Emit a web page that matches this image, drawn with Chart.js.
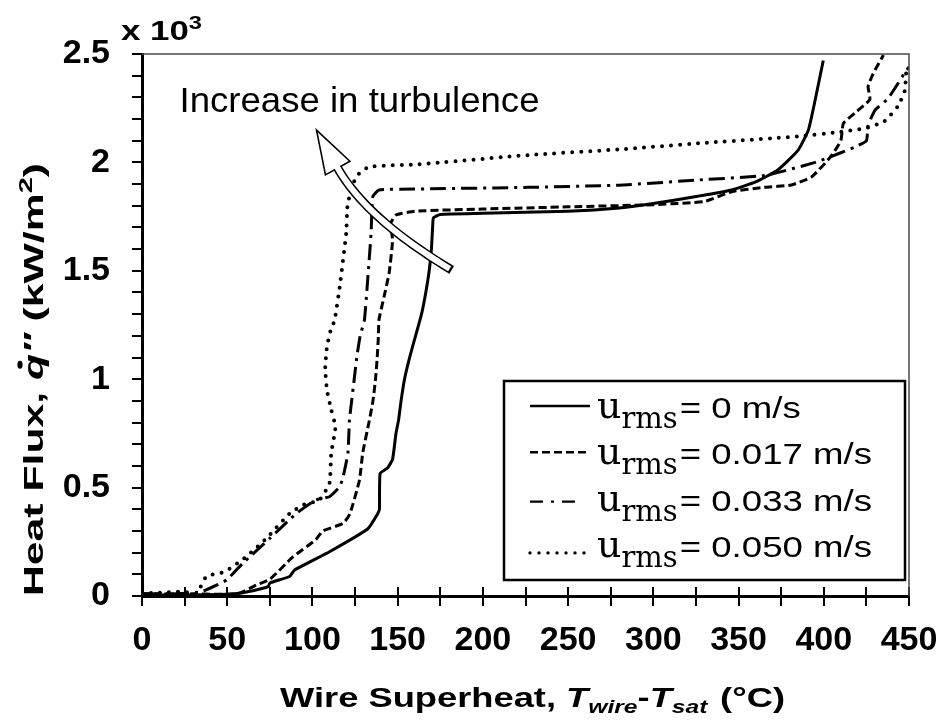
<!DOCTYPE html>
<html>
<head>
<meta charset="utf-8">
<title>Boiling curves</title>
<script src="https://cdn.jsdelivr.net/npm/chart.js@4.4.1/dist/chart.umd.min.js"></script>
<style>
  html, body { margin: 0; padding: 0; background: #fff; }
  #wrap { width: 943px; height: 721px; }
</style>
</head>
<body>
<div id="wrap"><canvas id="boil" width="943" height="721"></canvas></div>
<script>
// boiling curves: wire superheat (°C) vs heat flux (x10^3 kW/m2), one per turbulence level
const speeds = ['0', '0.017', '0.033', '0.050'];

const superheat0 = [0, 25, 49.5, 59, 68, 74, 75, 86.6, 89.5, 110, 132.5, 138.3, 139.3, 139.7, 144, 147, 149, 150.5, 152, 154, 157, 160.5, 164, 166.5, 168.5, 169.8, 170.5, 171, 175, 200, 250, 280, 300, 326, 346, 360, 373, 385, 391, 395, 399.7];
const flux0 = [0.005, 0.005, 0.008, 0.015, 0.03, 0.043, 0.06, 0.09, 0.12, 0.204, 0.31, 0.38, 0.40, 0.565, 0.59, 0.63, 0.75, 0.81, 0.9, 1.0, 1.1, 1.2, 1.3, 1.4, 1.5, 1.6, 1.7, 1.745, 1.76, 1.765, 1.775, 1.79, 1.81, 1.844, 1.873, 1.91, 1.965, 2.057, 2.15, 2.29, 2.47];

const superheat1 = [0, 30, 45, 57, 67, 75, 88.5, 102, 106, 118, 122, 127.6, 129.5, 133.4, 135.5, 137, 138, 138.7, 139, 142, 145, 147, 146, 149, 160, 200, 250, 300, 330, 346, 365, 381, 393, 404, 410, 411.5, 418, 427, 426, 429, 435];
const flux1 = [0.01, 0.01, 0.008, 0.012, 0.05, 0.077, 0.18, 0.26, 0.30, 0.335, 0.38, 0.535, 0.66, 0.81, 0.9, 1.0, 1.1, 1.2, 1.273, 1.38, 1.49, 1.64, 1.72, 1.757, 1.775, 1.785, 1.795, 1.805, 1.82, 1.865, 1.885, 1.896, 1.934, 2.026, 2.10, 2.18, 2.226, 2.29, 2.35, 2.41, 2.495];

const superheat2 = [0, 20, 35, 43.7, 49.6, 59, 75, 90.5, 102, 110, 116, 118, 120.8, 121.7, 123, 124.5, 126, 128, 130.5, 132.4, 134.4, 135.4, 139, 160, 227, 280, 326.5, 365.5, 395, 408.5, 418, 425, 426, 430, 437.7, 443.6, 448, 450];
const flux2 = [0.01, 0.01, 0.02, 0.05, 0.074, 0.15, 0.266, 0.38, 0.443, 0.458, 0.504, 0.55, 0.658, 0.81, 0.9, 1.0, 1.1, 1.2, 1.273, 1.458, 1.673, 1.842, 1.873, 1.877, 1.885, 1.895, 1.919, 1.94, 2.0, 2.04, 2.07, 2.10, 2.17, 2.24, 2.295, 2.365, 2.42, 2.44];

const superheat3 = [0, 10, 24, 32, 37.8, 48.6, 61, 73, 86.6, 94.4, 104, 110, 111, 113.5, 111, 108.5, 107.5, 108.5, 110.5, 113, 116, 119.8, 120.7, 125.6, 133.4, 160, 227, 280, 326.5, 385, 408.5, 424, 435.7, 443.6, 447.5, 448.3, 449];
const flux3 = [0.012, 0.015, 0.02, 0.012, 0.09, 0.112, 0.18, 0.266, 0.38, 0.42, 0.443, 0.52, 0.658, 0.78, 0.86, 0.95, 1.05, 1.15, 1.22, 1.273, 1.427, 1.673, 1.81, 1.934, 1.98, 1.99, 2.034, 2.06, 2.088, 2.12, 2.14, 2.157, 2.19, 2.26, 2.33, 2.41, 2.44];

const xTicksStep = 25;
const yTicksStep = 0.1;

const SANS = '"Liberation Sans", Arial, sans-serif';
const SERIF = '"DejaVu Serif", serif';
Chart.defaults.font.family = SANS;
Chart.defaults.color = '#000';

const pairs = (xs, ys) => xs.map((v, i) => ({ x: v, y: ys[i] }));
const series = [
  pairs(superheat0, flux0),
  pairs(superheat1, flux1),
  pairs(superheat2, flux2),
  pairs(superheat3, flux3)
];

// solid, dashed, dash-dot, dotted
const lineLooks = [
  { borderDash: [], borderCapStyle: 'butt', borderWidth: 3 },
  { borderDash: [8, 4], borderCapStyle: 'butt', borderWidth: 3 },
  { borderDash: [16, 6, 3, 6], borderCapStyle: 'butt', borderWidth: 3 },
  { borderDash: [0, 9], borderCapStyle: 'round', borderWidth: 4 }
];

// hollow curved arrow, anchored in data units
const arrowAt = { tail: [181.7, 1.504], bend: [131.8, 1.739], neck: [114.8, 1.974], tip: [102.4, 2.149] };
const noteAt = [22, 2.234];

function drawArrow(ctx, x, y) {
  const P = p => [x.getPixelForValue(p[0]), y.getPixelForValue(p[1])];
  const p0 = P(arrowAt.tail), c = P(arrowAt.bend), p2 = P(arrowAt.neck), tip = P(arrowAt.tip);
  const pt = t => [
    (1 - t) * (1 - t) * p0[0] + 2 * (1 - t) * t * c[0] + t * t * p2[0],
    (1 - t) * (1 - t) * p0[1] + 2 * (1 - t) * t * c[1] + t * t * p2[1]
  ];
  const curve = (t0, t1) => {
    ctx.beginPath();
    for (let i = 0; i <= 40; i++) {
      const q = pt(t0 + (t1 - t0) * i / 40);
      if (i) ctx.lineTo(q[0], q[1]); else ctx.moveTo(q[0], q[1]);
    }
  };
  ctx.lineCap = 'butt';
  ctx.lineJoin = 'round';
  ctx.strokeStyle = '#000';
  ctx.lineWidth = 9;
  curve(0, 1);
  ctx.stroke();

  const dx = tip[0] - p2[0], dy = tip[1] - p2[1], len = Math.hypot(dx, dy);
  const nx = -dy / len, ny = dx / len, half = 14;
  ctx.beginPath();
  ctx.moveTo(tip[0], tip[1]);
  ctx.lineTo(p2[0] + nx * half, p2[1] + ny * half);
  ctx.lineTo(p2[0] - nx * half, p2[1] - ny * half);
  ctx.closePath();
  ctx.fillStyle = '#fff';
  ctx.fill();
  ctx.lineWidth = 1.6;
  ctx.lineJoin = 'miter';
  ctx.stroke();

  // open the shaft into the head
  ctx.strokeStyle = '#fff';
  ctx.lineWidth = 6;
  curve(0.012, 1);
  ctx.lineTo(p2[0] + dx / len * 3, p2[1] + dy / len * 3);
  ctx.stroke();
}

// draw a run of differently styled text pieces, squeezed/stretched to a given width
function richText(ctx, parts, x, y, width, angle) {
  let natural = 0;
  parts.forEach(p => { ctx.font = p.font; natural += ctx.measureText(p.text).width + (p.gap || 0); });
  ctx.save();
  ctx.translate(x, y);
  if (angle) ctx.rotate(angle);
  ctx.scale(width ? width / natural : 1, 1);
  let cx = 0;
  parts.forEach(p => {
    ctx.font = p.font;
    ctx.fillText(p.text, cx, p.dy || 0);
    const w = ctx.measureText(p.text).width;
    if (p.dot) {
      ctx.beginPath();
      ctx.arc(cx + w * 0.58, -23, 2.6, 0, Math.PI * 2);
      ctx.fill();
    }
    cx += w + (p.gap || 0);
  });
  ctx.restore();
}

function drawLegend(ctx, chart, a) {
  const bw = 401, bh = 199;
  const bx = a.right - 405, by = a.bottom - 215;
  ctx.fillStyle = '#fff';
  ctx.fillRect(bx, by, bw, bh);
  ctx.lineWidth = 2.5;
  ctx.strokeStyle = '#000';
  ctx.strokeRect(bx, by, bw, bh);

  const lift = [12, 12, 9, 4];
  const sample = [60, 60, 47, 62];
  chart.data.datasets.forEach((ds, i) => {
    const base = by + 37 + i * 46.3;
    ctx.save();
    ctx.strokeStyle = '#000';
    ctx.setLineDash(i === 2 ? [13, 8, 3, 8] : ds.borderDash);
    ctx.lineCap = ds.borderCapStyle;
    ctx.lineWidth = ds.borderWidth - 0.6;
    ctx.beginPath();
    ctx.moveTo(bx + 26, base - lift[i]);
    ctx.lineTo(bx + 26 + sample[i], base - lift[i]);
    ctx.stroke();
    ctx.restore();

    ctx.fillStyle = '#000';
    let cx = bx + 93;
    ctx.font = '38px ' + SERIF;
    ctx.fillText('u', cx, base);
    cx += ctx.measureText('u').width;
    ctx.font = '29px ' + SERIF;
    ctx.fillText('rms', cx, base + 10);
    cx += ctx.measureText('rms').width + 2;
    ctx.save();
    ctx.translate(cx, base);
    ctx.scale(1.22, 1);
    ctx.font = '30px ' + SANS;
    ctx.fillText('= ' + ds.label, 0, 0);
    ctx.restore();
  });
}

const decor = {
  id: 'decor',
  afterDraw(chart) {
    const { ctx, chartArea: a, scales: { x, y } } = chart;
    ctx.save();
    ctx.strokeStyle = '#000';
    ctx.fillStyle = '#000';

    // x ticks cross the axis line
    ctx.lineWidth = 2;
    x.ticks.forEach(t => {
      const px = Math.round(x.getPixelForValue(t.value));
      ctx.beginPath();
      ctx.moveTo(px, a.bottom);
      ctx.lineTo(px, a.bottom - 9);
      ctx.stroke();
    });

    // light frame on top and right
    ctx.lineWidth = 1.5;
    ctx.strokeStyle = '#4a4a4a';
    ctx.beginPath();
    ctx.moveTo(a.left, a.top);
    ctx.lineTo(a.right, a.top);
    ctx.lineTo(a.right, a.bottom);
    ctx.stroke();

    drawArrow(ctx, x, y);

    ctx.fillStyle = '#000';
    ctx.textBaseline = 'alphabetic';
    ctx.textAlign = 'left';
    richText(ctx, [{ text: 'Increase in turbulence', font: '35px ' + SANS }],
      x.getPixelForValue(noteAt[0]), y.getPixelForValue(noteAt[1]), 360);

    drawLegend(ctx, chart, a);

    ctx.fillStyle = '#000';
    const B = 'bold 28px ' + SANS, BI = 'italic bold 28px ' + SANS;
    const bs = 'italic bold 19px ' + SANS, sup = 'bold 19px ' + SANS;

    // multiplier above the y axis
    richText(ctx, [{ text: 'x 10', font: B }, { text: '3', font: sup, dy: -11 }],
      a.left - 21, a.top - 14, 81);

    // axis titles
    richText(ctx, [
      { text: 'Wire Superheat, ', font: B },
      { text: 'T', font: BI },
      { text: 'wire', font: bs, dy: 6 },
      { text: '-', font: B },
      { text: 'T', font: BI },
      { text: 'sat', font: bs, dy: 6, gap: 2 },
      { text: ' (°C)', font: B }
    ], 280, 707, 505);

    richText(ctx, [
      { text: 'Heat Flux, ', font: B },
      { text: 'q', font: BI, dot: true },
      { text: '\u2032\u2032', font: BI },
      { text: ' (kW/m', font: B },
      { text: '2', font: sup, dy: -11 },
      { text: ')', font: B }
    ], 43, 596, 433, -Math.PI / 2);

    ctx.restore();
  }
};

const datasets = series.map((pts, i) => Object.assign({
  label: speeds[i] + ' m/s',
  data: pts,
  borderColor: '#000',
  backgroundColor: '#000',
  pointRadius: 0,
  fill: false,
  tension: 0.15
}, lineLooks[i]));

new Chart(document.getElementById('boil'), {
  type: 'line',
  data: { datasets },
  options: {
    responsive: false,
    animation: false,
    devicePixelRatio: 1,
    layout: { padding: { left: 0, top: 54, right: 34, bottom: 0 } },
    plugins: { legend: { display: false }, tooltip: { enabled: false } },
    scales: {
      x: {
        type: 'linear',
        min: 0,
        max: 450,
        afterFit: s => { s.height = 125; s.paddingLeft = 0; s.paddingRight = 0; },
        ticks: {
          stepSize: xTicksStep,
          autoSkip: false,
          maxRotation: 0,
          padding: 14,
          font: { size: 34, weight: 'bold' },
          callback: v => (v % 50 === 0 ? String(v) : '')
        },
        grid: { drawOnChartArea: false, drawTicks: true, tickLength: 10, color: '#000', lineWidth: 2 },
        border: { display: true, color: '#000', width: 3 }
      },
      y: {
        type: 'linear',
        min: 0,
        max: 2.5,
        afterFit: s => { s.width = 142; s.paddingTop = 0; s.paddingBottom = 0; },
        ticks: {
          stepSize: yTicksStep,
          autoSkip: false,
          padding: 22,
          font: { size: 34, weight: 'bold' },
          callback: v => {
            const h = Math.round(v * 10);
            return h % 5 === 0 ? String(h / 10) : '';
          }
        },
        grid: { drawOnChartArea: false, drawTicks: true, tickLength: 10, color: '#000', lineWidth: 2 },
        border: { display: true, color: '#000', width: 3 }
      }
    }
  },
  plugins: [decor]
});
</script>
</body>
</html>
